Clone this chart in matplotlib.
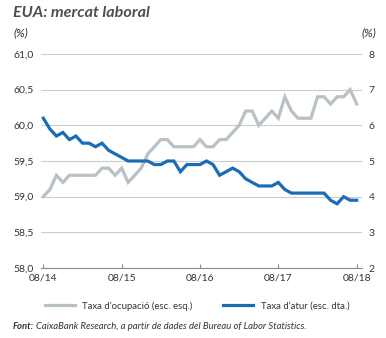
import matplotlib
matplotlib.use("Agg")
import matplotlib.pyplot as plt
from matplotlib.ticker import FuncFormatter, FixedLocator
from matplotlib.lines import Line2D

plt.rcParams['font.family'] = ['Lato', 'DejaVu Sans']

# ---- data (monthly, 08/2014 .. 08/2018) ----
employment_rate = [59.0, 59.1, 59.3, 59.2, 59.3, 59.3, 59.3, 59.3, 59.3, 59.4,
                   59.4, 59.3, 59.4, 59.2, 59.3, 59.4, 59.6, 59.7, 59.8, 59.8,
                   59.7, 59.7, 59.7, 59.7, 59.8, 59.7, 59.7, 59.8, 59.8, 59.9,
                   60.0, 60.2, 60.2, 60.0, 60.1, 60.2, 60.1, 60.4, 60.2, 60.1,
                   60.1, 60.1, 60.4, 60.4, 60.3, 60.4, 60.4, 60.5, 60.3]
unemployment_rate = [6.2, 5.9, 5.7, 5.8, 5.6, 5.7, 5.5, 5.5, 5.4, 5.5,
                     5.3, 5.2, 5.1, 5.0, 5.0, 5.0, 5.0, 4.9, 4.9, 5.0,
                     5.0, 4.7, 4.9, 4.9, 4.9, 5.0, 4.9, 4.6, 4.7, 4.8,
                     4.7, 4.5, 4.4, 4.3, 4.3, 4.3, 4.4, 4.2, 4.1, 4.1,
                     4.1, 4.1, 4.1, 4.1, 3.9, 3.8, 4.0, 3.9, 3.9]
tick_labels = ["08/14", "08/15", "08/16", "08/17", "08/18"]
left_ticks = [58.0, 58.5, 59.0, 59.5, 60.0, 60.5, 61.0]
right_ticks = [2, 3, 4, 5, 6, 7, 8]
labels = ["Taxa d\u2019ocupació (esc. esq.)", "Taxa d\u2019atur (esc. dta.)"]

months = list(range(len(employment_rate)))
tick_pos = [0, 12, 24, 36, 48]

GRAY = "#b7c1c6"
BLUE = "#1a6db4"
TXT = "#333333"

W, H = 386, 338
fig = plt.figure(figsize=(W / 100, H / 100), dpi=100)
fig.patch.set_facecolor("white")

ax = fig.add_axes([40.7 / W, 1 - 268 / H, (361.7 - 40.7) / W, (268 - 54) / H])
ax2 = ax.twinx()

ax.plot(months, employment_rate, color=GRAY, lw=2.3, solid_joinstyle="miter", zorder=3)
ax2.plot(months, unemployment_rate, color=BLUE, lw=2.3, solid_joinstyle="miter", zorder=3)

ax.set_xlim(-0.4, 48.77)
ax.set_ylim(58.0, 61.0)
ax2.set_ylim(2, 8)

ax.yaxis.set_major_locator(FixedLocator(left_ticks))
ax.yaxis.set_major_formatter(FuncFormatter(lambda v, p: f"{v:.1f}".replace(".", ",")))
ax2.yaxis.set_major_locator(FixedLocator(right_ticks))
ax2.yaxis.set_major_formatter(FuncFormatter(lambda v, p: f"{v:.0f}"))

ax.set_xticks(tick_pos)
ax.set_xticklabels(tick_labels)

ax.yaxis.grid(True, color="#cccccc", lw=0.8)
ax.set_axisbelow(True)

for a in (ax, ax2):
    for s in ("top", "left", "right", "bottom"):
        a.spines[s].set_visible(False)
ax.spines["bottom"].set_visible(True)
ax.spines["bottom"].set_color("#8a8a8a")
ax.spines["bottom"].set_linewidth(0.8)

ax.tick_params(axis="x", direction="in", length=3, width=0.8, color="#8a8a8a",
               labelsize=7.5, labelcolor=TXT, pad=4)
ax.tick_params(axis="y", length=0, labelsize=7.5, labelcolor=TXT, pad=5)
ax2.tick_params(axis="y", length=0, labelsize=7.5, labelcolor=TXT, pad=5)
ax2.tick_params(axis="x", length=0)

# title and units
fig.text(13 / W, 1 - 17 / H, "EUA: mercat laboral", fontsize=11.6, fontweight="bold",
         fontstyle="italic", color="#4f4f4f", ha="left", va="baseline")
fig.text(13 / W, 1 - 36 / H, "(%)", fontsize=8.5, fontstyle="italic", color=TXT,
         ha="left", va="baseline")
fig.text(376 / W, 1 - 36 / H, "(%)", fontsize=8.5, fontstyle="italic", color=TXT,
         ha="right", va="baseline")

# legend
handles = [Line2D([], [], color=GRAY, lw=2.3), Line2D([], [], color=BLUE, lw=2.3)]
fig.legend(handles, labels, loc="center left", bbox_to_anchor=(45 / W, 1 - 306 / H),
           ncol=2, frameon=False, fontsize=6.9, handlelength=3.1, handletextpad=0.8,
           columnspacing=3.2, borderpad=0, borderaxespad=0, labelcolor=TXT)

# source
src_fam = ["Liberation Sans Narrow", "Lato", "DejaVu Sans"]
t1 = fig.text(13 / W, 1 - 329 / H, "Font:", fontsize=6.8, fontweight="bold",
              fontstyle="italic", color=TXT, ha="left", va="baseline", family=src_fam)
renderer = fig.canvas.get_renderer()
bb = t1.get_window_extent(renderer=renderer)
fig.text((bb.x1 + 1.5) / W, 1 - 329 / H,
         "CaixaBank Research, a partir de dades del Bureau of Labor Statistics.",
         fontsize=6.8, fontstyle="italic", color=TXT, ha="left", va="baseline",
         family=src_fam)

fig.savefig("out.png", dpi=100)
